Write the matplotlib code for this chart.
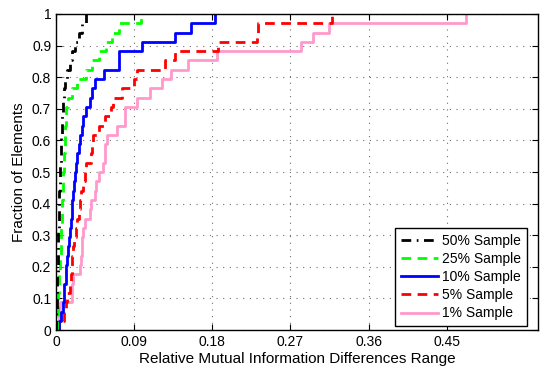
import numpy as np
import matplotlib
matplotlib.use("Agg")
import matplotlib.pyplot as plt

plt.rcParams['font.family'] = ['Liberation Sans', 'DejaVu Sans']

labels = ["50% Sample", "25% Sample", "10% Sample", "5% Sample", "1% Sample"]
colors = ["#000000", "#00ff00", "#0000ff", "#ff0000", "#ff99cc"]
styles = [(0, (3.5, 2.0, 0.6, 2.0)), (0, (3.5, 2.3)), "-", (0, (3.5, 2.3)), "-"]

s50 = [0.0003, 0.0005, 0.0008, 0.001, 0.0012, 0.0015, 0.0018, 0.002, 0.0022, 0.0025,
       0.0028, 0.003, 0.0033, 0.0036, 0.004, 0.0043, 0.0046, 0.005, 0.0053, 0.0057,
       0.006, 0.0065, 0.007, 0.0075, 0.008, 0.009, 0.010, 0.013, 0.016, 0.019,
       0.022, 0.026, 0.030, 0.034]
s25 = [0.0012, 0.0018, 0.0023, 0.0028, 0.0033, 0.0038, 0.0043, 0.0048, 0.0053, 0.0057,
       0.006, 0.0065, 0.007, 0.0074, 0.0078, 0.0082, 0.0086, 0.009, 0.0094, 0.0098,
       0.0102, 0.0106, 0.011, 0.012, 0.014, 0.019, 0.024, 0.034, 0.042, 0.049,
       0.058, 0.065, 0.073, 0.098]
s10 = [0.004, 0.006, 0.008, 0.009, 0.0095, 0.011, 0.012, 0.013, 0.014, 0.015,
       0.016, 0.017, 0.018, 0.019, 0.020, 0.021, 0.022, 0.023, 0.024, 0.026,
       0.028, 0.030, 0.031, 0.035, 0.039, 0.041, 0.045, 0.055, 0.073, 0.073,
       0.099, 0.137, 0.155, 0.183]
s5 = [0.004, 0.009, 0.011, 0.013, 0.016, 0.017, 0.018, 0.019, 0.020, 0.021,
      0.023, 0.024, 0.026, 0.028, 0.029, 0.031, 0.033, 0.035, 0.040, 0.041,
      0.043, 0.050, 0.056, 0.063, 0.066, 0.076, 0.090, 0.093, 0.126, 0.137,
      0.187, 0.232, 0.233, 0.318]
s1 = [0.003, 0.004, 0.005, 0.018, 0.019, 0.020, 0.028, 0.029, 0.030, 0.030,
      0.031, 0.033, 0.039, 0.040, 0.045, 0.046, 0.050, 0.054, 0.056, 0.057,
      0.059, 0.070, 0.080, 0.080, 0.093, 0.108, 0.122, 0.132, 0.152, 0.186,
      0.282, 0.296, 0.315, 0.472]
series = [s50, s25, s10, s5, s1]

xticks = [0, 0.09, 0.18, 0.27, 0.36, 0.45]
xticklabels = ["0", "0.09", "0.18", "0.27", "0.36", "0.45"]
yticks = [0, 0.1, 0.2, 0.3, 0.4, 0.5, 0.6, 0.7, 0.8, 0.9, 1.0]
yticklabels = ["0", "0.1", "0.2", "0.3", "0.4", "0.5", "0.6", "0.7", "0.8", "0.9", "1"]

fig = plt.figure(figsize=(5.4, 3.68), dpi=100)
ax = fig.add_axes([0.1037, 0.103, 0.8923, 0.859])

# draw in reverse so black is on top
for vals, lab, c, ls in reversed(list(zip(series, labels, colors, styles))):
    v = np.sort(np.asarray(vals))
    n = len(v)
    x = np.concatenate([[0.0], v])
    y = np.arange(n + 1) / n
    ax.plot(x, y, drawstyle='steps-post', color=c, linestyle=ls, linewidth=2, label=lab)

ax.set_xlim(0, 0.555)
ax.set_ylim(0, 1)
ax.set_xticks(xticks)
ax.set_xticklabels(xticklabels)
ax.set_yticks(yticks)
ax.set_yticklabels(yticklabels)
ax.tick_params(direction='in', top=True, right=True, labelsize=10, length=4)
ax.grid(True, linestyle=(0, (1, 5)), color='#707070', linewidth=0.8)
for s in ax.spines.values():
    s.set_linewidth(1.0)

ax.set_xlabel("Relative Mutual Information Differences Range", fontsize=11, labelpad=2)
ax.set_ylabel("Fraction of Elements", fontsize=11, labelpad=4)

handles, labs = ax.get_legend_handles_labels()
handles = handles[::-1]
labs = labs[::-1]
leg = ax.legend(handles, labs, loc='lower right', bbox_to_anchor=(0.977, 0.013),
                borderaxespad=0, fontsize=10, fancybox=False, edgecolor='black',
                framealpha=1, handlelength=2.7, borderpad=0.4, labelspacing=0.3,
                handletextpad=0.3)
leg.get_frame().set_linewidth(1.0)

fig.savefig("out.png", dpi=100)
